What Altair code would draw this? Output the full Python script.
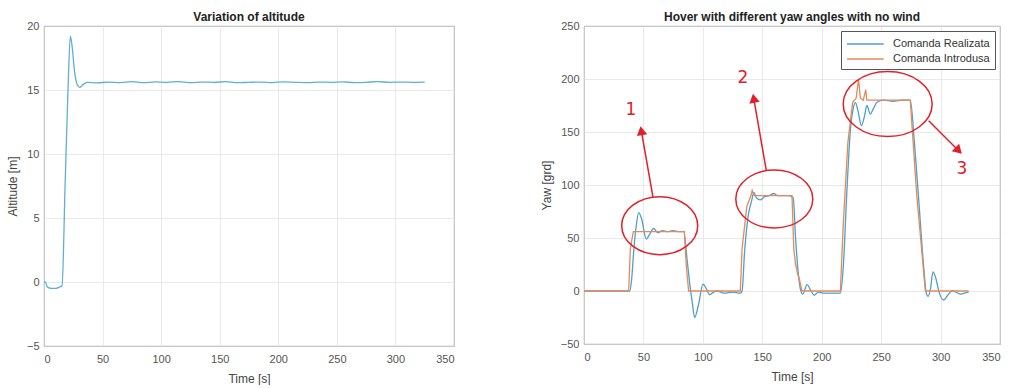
import altair as alt
import pandas as pd

# ---------------- data ----------------
alt_t = [0, 1, 3, 6, 10, 13, 15.4, 18, 20.5, 22.5, 24, 26, 28.5, 30.5, 33, 37,
         45, 55, 65, 75, 85, 95, 105, 115, 125, 135, 145, 155, 165, 175, 185,
         195, 205, 215, 225, 235, 245, 255, 265, 275, 285, 295, 305, 315, 325]
alt_v = [0, 0, -0.4, -0.5, -0.5, -0.4, -0.3, 7.5, 15.1, 19.2, 18.4, 16.5, 15.4, 15.2, 15.4, 15.6,
         15.55, 15.62, 15.58, 15.65, 15.57, 15.63, 15.6, 15.66, 15.58, 15.62, 15.6, 15.65, 15.57, 15.6, 15.62,
         15.58, 15.64, 15.6, 15.57, 15.62, 15.6, 15.63, 15.58, 15.6, 15.65, 15.6, 15.62, 15.6, 15.62]

cmd_t = [0, 37.6, 39, 41.5, 84.4, 86, 88, 131.5, 133, 137, 140.5, 141.5, 143, 175, 176.5, 178,
         180, 181, 183.4, 215.7, 218, 222, 226, 229, 231, 232.5, 235, 237, 238, 240, 274.5, 280,
         287.2, 323.6]
cmd_v = [0, 0, 40, 56, 56, 25, 0, 0, 40, 80, 90, 95, 90, 90, 40, 25,
         15, 12, 0, 0, 60, 140, 178, 182, 200, 182, 180, 190, 180, 180, 180, 90,
         0, 0]

real_t = [0, 38.5, 40, 42, 44, 46, 48.5, 52.4, 55.5, 58.6, 62, 66, 70, 75, 80, 84, 86.7, 89.5,
          91, 93.1, 96.5, 100.1, 103, 105.7, 109, 112, 118, 125, 131.5, 133, 135, 138, 141, 143,
          145, 148.3, 152, 156, 159.6, 163, 168, 172, 176, 178, 180, 182, 184, 187.7, 191, 193.8,
          197, 202, 208, 215.7, 218, 221, 224, 226.5, 228.3, 230.5, 233.4, 236, 238, 240.9, 243.5,
          246.5, 252, 260, 268, 274.5, 278, 282, 286, 288, 289.5, 291.5, 293.6, 296, 299, 302.6,
          306, 309.7, 313, 316.7, 320, 323.6]
real_v = [0, 0, 10, 40, 62, 74, 68, 49, 54, 59, 55, 57, 56, 57, 56, 56, 30, 2,
          -10, -25, -12, 6.5, 2, -3.5, -1, 0, -2, -1, -2, 0, 35, 70, 85, 93,
          88, 86, 89, 90, 92, 90, 90, 90, 88, 50, 20, 2, -3, 6, 0, -4,
          -1, -2, -2, -2, 20, 90, 150, 172, 178, 170, 156, 165, 175, 167, 172,
          178, 180, 179, 180, 180, 140, 80, 20, -2, -5, 2, 18, 12, -2, -8.5,
          -4, 0, -1, -3, -2, -1]

series_names = ["Comanda Realizata", "Comanda Introdusa"]
series_colors = ["#4f9fc9", "#e58a5c"]

# annotations (data coordinates)
ell_t = [63.7, 160.1, 255.5]
ell_v = [61.6, 86.8, 176.4]
arrow_t0 = [58.0, 153.4, 290.0]
arrow_v0 = [88.7, 113.5, 160.7]
arrow_t1 = [48.2, 142.8, 315.2]
arrow_v1 = [151.2, 181.8, 132.4]
label_t = [39.5, 133.8, 318.0]
label_v = [170.8, 201.0, 115.0]
label_txt = ["1", "2", "3"]

FONT = "Liberation Sans"
RED = "#e0202a"

x_ticks = [0, 50, 100, 150, 200, 250, 300, 350]

# ---------------- left: altitude ----------------
df_alt = pd.DataFrame({"t": alt_t, "v": alt_v})
left = alt.Chart(df_alt, title="Variation of altitude").mark_line(
    color="#5fb0d2", strokeWidth=1.3, interpolate="monotone"
).encode(
    x=alt.X("t:Q", title="Time [s]", scale=alt.Scale(domain=[0, 350], nice=False),
            axis=alt.Axis(values=x_ticks)),
    y=alt.Y("v:Q", title="Altitude [m]", scale=alt.Scale(domain=[-5, 20], nice=False),
            axis=alt.Axis(values=[-5, 0, 5, 10, 15, 20])),
).properties(width=410, height=320)

# ---------------- right: yaw ----------------
df_real = pd.DataFrame({"t": real_t, "v": real_v, "s": series_names[0]})
df_cmd = pd.DataFrame({"t": cmd_t, "v": cmd_v, "s": series_names[1]})

xr = alt.X("t:Q", title="Time [s]", scale=alt.Scale(domain=[0, 350], nice=False),
           axis=alt.Axis(values=x_ticks))
yr = alt.Y("v:Q", title="Yaw [grd]", scale=alt.Scale(domain=[-50, 250], nice=False),
           axis=alt.Axis(values=[-50, 0, 50, 100, 150, 200, 250]))
color = alt.Color("s:N", scale=alt.Scale(domain=series_names, range=series_colors),
                  legend=alt.Legend(title=None, orient="top-right", offset=5,
                                    symbolType="M -1 0 H 4.2", symbolSize=200,
                                    symbolStrokeWidth=1.3, symbolFillColor="transparent",
                                    labelFontSize=11, labelOffset=31,
                                    labelColor="#333", strokeColor="#555",
                                    fillColor="white", padding=5, rowPadding=2,
                                    labelFont=FONT))

real_line = alt.Chart(df_real).mark_line(strokeWidth=1.3, interpolate="monotone").encode(
    x=xr, y=yr, color=color)
cmd_line = alt.Chart(df_cmd).mark_line(strokeWidth=1.3).encode(x=xr, y=yr, color=color)


def ellipse_path(r):
    k = 0.5523
    return (f"M 1 0 C 1 {r*k:.4f} {k} {r:.4f} 0 {r:.4f} "
            f"C {-k} {r:.4f} -1 {r*k:.4f} -1 0 "
            f"C -1 {-r*k:.4f} {-k} {-r:.4f} 0 {-r:.4f} "
            f"C {k} {-r:.4f} 1 {-r*k:.4f} 1 0 Z")


ell_sizes_px = [(76, 58), (77, 58), (89, 65)]
ell_layers = []
for i, (w, h) in enumerate(ell_sizes_px):
    d = pd.DataFrame({"t": [ell_t[i]], "v": [ell_v[i]]})
    ell_layers.append(
        alt.Chart(d).mark_point(shape=ellipse_path(h / w), size=w * w, filled=False,
                                stroke=RED, strokeWidth=1.5, opacity=1)
        .encode(x="t:Q", y="v:Q")
    )

df_arrow = pd.DataFrame({"t0": arrow_t0, "v0": arrow_v0, "t1": arrow_t1, "v1": arrow_v1,
                         "ang": [350, 350, 135]})
arrow_rules = alt.Chart(df_arrow).mark_rule(color=RED, strokeWidth=1.5).encode(
    x="t0:Q", y="v0:Q", x2="t1:Q", y2="v1:Q")
arrow_heads = alt.Chart(df_arrow).mark_point(shape="triangle-up", filled=True, color=RED,
                                             size=110, opacity=1).encode(
    x="t1:Q", y="v1:Q", angle=alt.Angle("ang:Q", scale=None))

df_lab = pd.DataFrame({"t": label_t, "v": label_v, "txt": label_txt})
labels = alt.Chart(df_lab).mark_text(color=RED, fontSize=17, font="DejaVu Sans").encode(
    x="t:Q", y="v:Q", text="txt:N")

right = alt.layer(real_line, cmd_line, *ell_layers, arrow_rules, arrow_heads, labels,
                  title="Hover with different yaw angles with no wind").properties(
    width=416, height=318)

chart = alt.hconcat(left, right, spacing=84).resolve_legend(color="independent").configure(
    font=FONT, padding={"left": 6, "top": 10, "right": 0, "bottom": 0}
).configure_view(
    stroke="#3a3a3a", strokeWidth=0.9
).configure_axis(
    grid=True, gridColor="#e3e3e3", gridWidth=0.8, domain=False, ticks=False,
    labelFont=FONT, labelFontSize=11, labelColor="#555",
    titleFont=FONT, titleFontSize=12, titleFontWeight="normal", titleColor="#444",
).configure_axisX(
    labelPadding=7, titlePadding=9
).configure_axisY(
    labelPadding=5, titlePadding=7
).configure_title(
    font=FONT, fontSize=12, fontWeight="bold", color="#222", offset=-4
)

chart.save("out.html", embed_options={"renderer": "svg", "actions": False})
